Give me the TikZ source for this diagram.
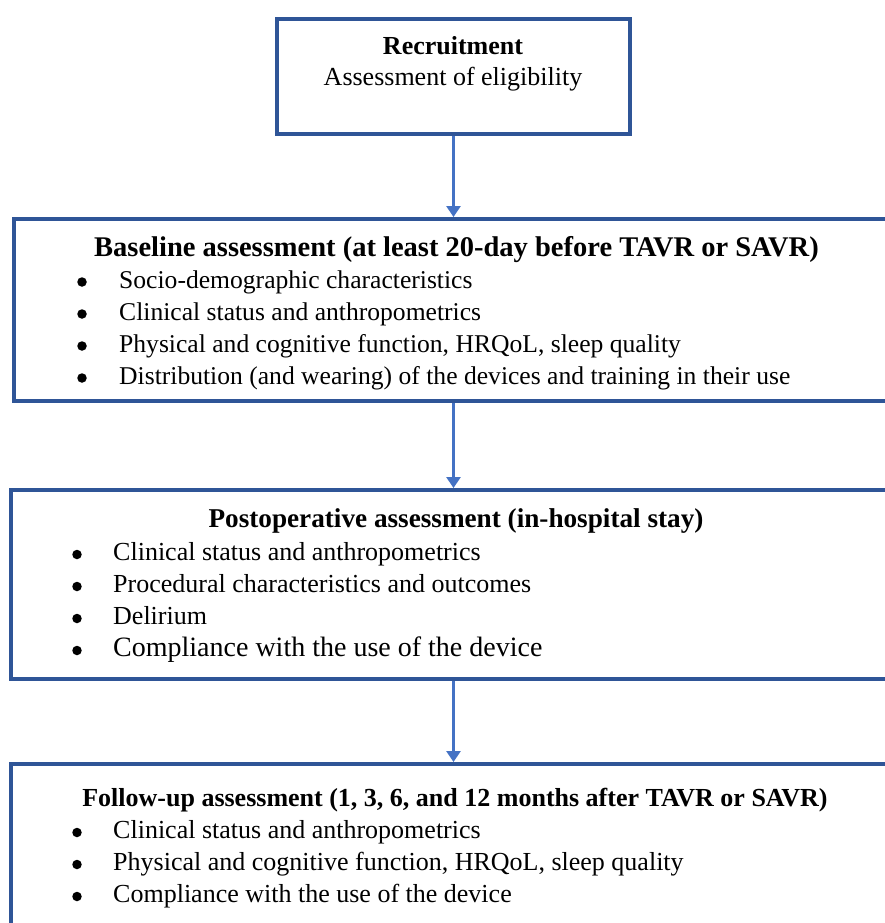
\documentclass[tikz,border=0pt]{standalone}
\usepackage{fontspec}
\setmainfont{Liberation Serif}
\usetikzlibrary{arrows.meta}
\definecolor{boxblue}{HTML}{2F5597}
\definecolor{arrowblue}{HTML}{4472C4}
\begin{document}
\begin{tikzpicture}[x=1pt,y=-1pt,
  box/.style={draw=boxblue, line width=4pt, fill=white, rectangle, inner sep=0pt},
  conn/.style={draw=arrowblue, line width=3pt, -{Triangle[length=11pt,width=14pt]}},
  txt/.style={font=\fontsize{26}{31}\selectfont, inner sep=0pt, anchor=base},
  ttl/.style={inner sep=0pt, anchor=base, font=\fontsize{#1}{31}\selectfont\bfseries},
  ttl/.default=26,
  item/.style={inner sep=0pt, anchor=base west, font=\fontsize{#1}{31}\selectfont},
  item/.default=26,
  bul/.style={circle, fill=black, inner sep=0pt, minimum size=9.5pt}
]
\useasboundingbox (0,0) rectangle (885,923);
\clip (0,0) rectangle (885,923);
\fill[white] (0,0) rectangle (885,923);

% boxes
\node[box, minimum width=353pt, minimum height=115pt] (b1) at (453.5,76.5) {};
\node[box, minimum width=896pt, minimum height=182pt] (b2) at (462,310) {};
\node[box, minimum width=899pt, minimum height=189pt] (b3) at (460.5,584.5) {};
\node[box, minimum width=899pt, minimum height=176pt] (b4) at (460.5,852) {};

% connectors
\draw[conn] (b1.south) -- (b1.south |- b2.north);
\draw[conn] (b1.south |- b2.south) -- (b1.south |- b3.north);
\draw[conn] (b1.south |- b3.south) -- (b1.south |- b4.north);

% box 1 text
\node[ttl] (t1) at (453,55) {Recruitment};
\node[txt] (t1a) at (453,86) {Assessment of eligibility};

% box 2 text
\node[ttl=28.5] (t2) at (456.5,256) {Baseline assessment (at least 20-day before TAVR or SAVR)};
\node[bul] (b2d1) at (82,282) {};
\node[item=25.6] (b2i1) at (119,288) {Socio-demographic characteristics};
\node[bul] (b2d2) at (82,314) {};
\node[item=25.6] (b2i2) at (119,320) {Clinical status and anthropometrics};
\node[bul] (b2d3) at (82,346) {};
\node[item=25.6] (b2i3) at (119,352) {Physical and cognitive function, HRQoL, sleep quality};
\node[bul] (b2d4) at (82,378) {};
\node[item=25.6] (b2i4) at (119,384) {Distribution (and wearing) of the devices and training in their use};

% box 3 text
\node[ttl=27.2] (t3) at (456,527) {Postoperative assessment (in-hospital stay)};
\node[bul] (b3d1) at (77,554.5) {};
\node[item] (b3i1) at (113,560) {Clinical status and anthropometrics};
\node[bul] (b3d2) at (77,586.5) {};
\node[item] (b3i2) at (113,592) {Procedural characteristics and outcomes};
\node[bul] (b3d3) at (77,618.5) {};
\node[item] (b3i3) at (113,624) {Delirium};
\node[bul] (b3d4) at (77,650.5) {};
\node[item=28] (b3i4) at (113,656) {Compliance with the use of the device};

% box 4 text
\node[ttl] (t4) at (455,806) {Follow-up assessment (1, 3, 6, and 12 months after TAVR or SAVR)};
\node[bul] (b4d1) at (77,832.5) {};
\node[item] (b4i1) at (113,838) {Clinical status and anthropometrics};
\node[bul] (b4d2) at (77,864.5) {};
\node[item] (b4i2) at (113,870) {Physical and cognitive function, HRQoL, sleep quality};
\node[bul] (b4d3) at (77,896.5) {};
\node[item] (b4i3) at (113,902) {Compliance with the use of the device};
\end{tikzpicture}
\end{document}
